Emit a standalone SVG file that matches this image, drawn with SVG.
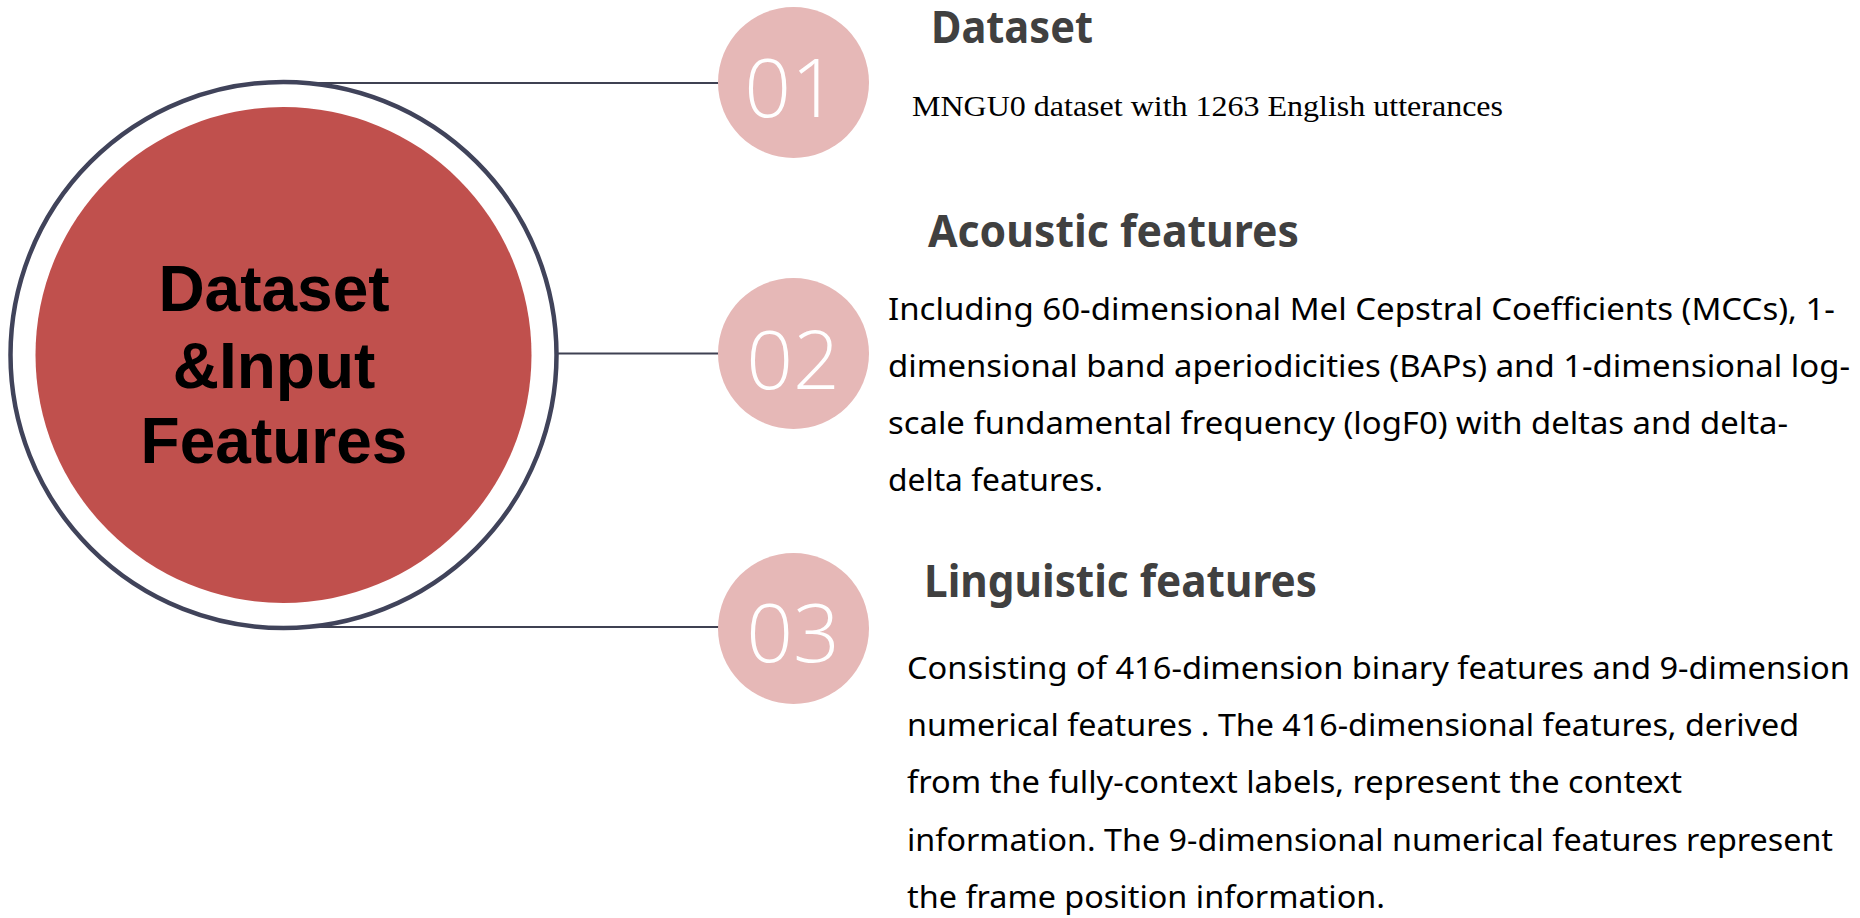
<svg xmlns="http://www.w3.org/2000/svg" width="1860" height="918" viewBox="0 0 1860 918">
<style>
.conn{stroke:#3f4152;stroke-width:2;fill:none}
.num{fill:#e6b8b7}
.numt{font-family:"Open Sans","Noto Sans",sans-serif;font-weight:300;font-size:82px;fill:#ffffff;text-anchor:middle}
.head{font-family:"Noto Sans","Open Sans",sans-serif;font-weight:700;font-size:44px;fill:#404040}
.body{font-family:"Noto Sans","Open Sans",sans-serif;font-size:31px;fill:#000000}
.serif{font-family:"Liberation Serif","Times New Roman",serif;font-size:30px;fill:#000000}
.center{font-family:"Liberation Sans",Arial,sans-serif;font-weight:700;font-size:64px;fill:#000000;text-anchor:middle}
</style>
<rect width="1860" height="918" fill="#ffffff"/>
<g id="connectors">
<line class="conn" x1="283" y1="83" x2="720" y2="83"/>
<line class="conn" x1="557" y1="353.5" x2="720" y2="353.5"/>
<line class="conn" x1="283" y1="627" x2="720" y2="627"/>
</g>
<g id="main">
<circle cx="283.5" cy="355" r="273" fill="#ffffff" stroke="#40435a" stroke-width="4.5"/>
<circle cx="283.5" cy="355" r="248" fill="#c0504d"/>
<text class="center" x="274" y="311">Dataset</text>
<text class="center" x="274" y="388">&amp;Input</text>
<text class="center" x="274" y="463">Features</text>
</g>
<g id="item1">
<circle class="num" cx="793.5" cy="82.5" r="75.5"/>
<text class="numt" x="791" y="117">01</text>
<text class="head" x="931" y="43" textLength="162" lengthAdjust="spacingAndGlyphs">Dataset</text>
<text class="serif" x="912" y="116" textLength="591" lengthAdjust="spacingAndGlyphs">MNGU0 dataset with 1263 English utterances</text>
</g>
<g id="item2">
<circle class="num" cx="793.5" cy="353.5" r="75.5"/>
<text class="numt" x="793" y="389">02</text>
<text class="head" x="928" y="247" textLength="371" lengthAdjust="spacingAndGlyphs">Acoustic features</text>
<text class="body" x="888" y="320" textLength="947" lengthAdjust="spacingAndGlyphs">Including 60-dimensional Mel Cepstral Coefficients (MCCs), 1-</text>
<text class="body" x="888" y="377" textLength="962" lengthAdjust="spacingAndGlyphs">dimensional band aperiodicities (BAPs) and 1-dimensional log-</text>
<text class="body" x="888" y="434" textLength="900" lengthAdjust="spacingAndGlyphs">scale fundamental frequency (logF0) with deltas and delta-</text>
<text class="body" x="888" y="491" textLength="215" lengthAdjust="spacingAndGlyphs">delta features.</text>
</g>
<g id="item3">
<circle class="num" cx="793.5" cy="628.5" r="75.5"/>
<text class="numt" x="793" y="662">03</text>
<text class="head" x="924" y="597" textLength="393" lengthAdjust="spacingAndGlyphs">Linguistic features</text>
<text class="body" x="907" y="678.5" textLength="943" lengthAdjust="spacingAndGlyphs">Consisting of 416-dimension binary features and 9-dimension</text>
<text class="body" x="907" y="735.5" textLength="892" lengthAdjust="spacingAndGlyphs">numerical features . The 416-dimensional features, derived</text>
<text class="body" x="907" y="792.5" textLength="775" lengthAdjust="spacingAndGlyphs">from the fully-context labels, represent the context</text>
<text class="body" x="907" y="850.5" textLength="926" lengthAdjust="spacingAndGlyphs">information. The 9-dimensional numerical features represent</text>
<text class="body" x="907" y="907.5" textLength="478" lengthAdjust="spacingAndGlyphs">the frame position information.</text>
</g>
</svg>
